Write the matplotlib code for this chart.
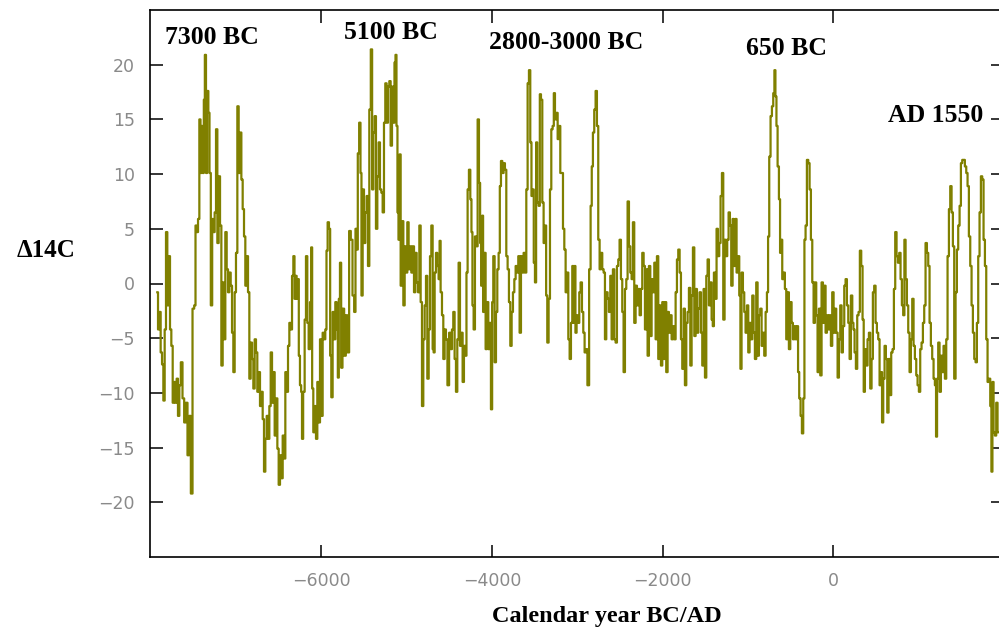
import matplotlib
matplotlib.use("Agg")
import matplotlib.pyplot as plt
import numpy as np

# (calendar year, Delta 14C), segment by segment
seg1 = [(-7924,-0.8),(-7908,-4.2),(-7893,-2.6),(-7877,-6.3),(-7861,-7.4),(-7846,-10.7),(-7830,-4.2),(-7815,4.7),
        (-7799,-2.0),(-7783,2.5),(-7768,-4.2),(-7752,-5.7),(-7736,-10.9),(-7721,-9.0),(-7705,-10.9),(-7690,-8.7),
        (-7674,-12.1),(-7658,-9.3),(-7639,-7.2),(-7619,-10.5),(-7600,-12.7),(-7580,-10.9),(-7561,-15.7),(-7541,-12.1),
        (-7521,-19.2),(-7502,-2.3),(-7482,-2.0),(-7471,5.3),(-7455,4.7),(-7439,5.9),(-7424,15.0),(-7412,10.1),
        (-7400,14.4),(-7385,10.1),(-7373,16.8),(-7361,20.9),(-7346,10.1),(-7334,17.6),(-7318,15.6),(-7307,10.1),
        (-7287,-2.0),(-7275,5.9),(-7260,4.7),(-7244,6.5),(-7228,14.1),(-7213,3.7),(-7197,9.8),(-7181,5.3),
        (-7166,-7.5),(-7150,0.1),(-7135,-5.1),(-7119,4.7),(-7103,1.3),(-7088,-0.8),(-7072,1.0),(-7056,-0.2),
        (-7041,-4.5),(-7025,-8.1),(-7010,-0.8),(-6994,2.8),(-6978,16.2),(-6963,10.1),(-6947,13.8),(-6931,9.5),
        (-6916,6.8),(-6900,4.3),(-6885,-0.2),(-6869,2.5),(-6853,-0.8),(-6838,-8.7),(-6822,-5.4),(-6806,-6.9),
        (-6791,-9.6),(-6775,-5.1),(-6760,-6.3),(-6744,-9.9),(-6728,-8.1),(-6713,-11.2),(-6697,-9.9),(-6681,-12.4),
        (-6666,-17.2),(-6650,-14.2),(-6634,-12.1),(-6619,-14.2),(-6603,-11.2),(-6587,-6.3),(-6572,-10.9),(-6556,-8.1),
        (-6541,-13.9),(-6525,-10.5),(-6509,-15.1),(-6494,-18.4),(-6478,-15.7),(-6462,-17.8),(-6447,-13.9),(-6431,-16.0),
        (-6416,-8.1),(-6400,-9.9),(-6384,-5.7),(-6369,-3.6),(-6353,-4.2),(-6337,0.7),(-6322,2.5)]

seg2 = [(-6310,-1.4),(-6299,0.7),(-6283,-1.4),(-6271,0.4),(-6260,-6.6),(-6244,-9.3),(-6232,-9.9),(-6224,-14.2),
        (-6205,-9.9),(-6189,-3.3),(-6174,2.5),(-6158,-3.6),(-6142,-6.0),(-6127,-1.7),(-6115,3.3),(-6103,-9.6),
        (-6088,-13.6),(-6072,-11.2),(-6056,-14.2),(-6041,-9.0),(-6025,-12.7),(-6009,-5.1),(-5994,-12.1),(-5978,-4.5),
        (-5963,-5.1),(-5947,-4.2),(-5935,3.0),(-5920,5.6),(-5904,5.0),(-5892,-6.6),(-5877,-10.4),(-5861,-2.6),
        (-5845,-5.1),(-5830,-1.7),(-5814,-4.2),(-5802,-8.6),(-5791,-1.4),(-5775,1.9),(-5763,-7.7),(-5744,-2.3),
        (-5724,-6.6),(-5705,-2.9),(-5685,-6.3),(-5666,4.8),(-5646,4.0),(-5626,-1.1),(-5607,-2.6),(-5595,5.0),
        (-5580,3.1),(-5568,11.9),(-5548,14.7),(-5537,10.1),(-5525,-1.1),(-5509,8.6),(-5494,3.7),(-5478,6.5),
        (-5462,8.0),(-5447,1.6),(-5431,15.9),(-5412,21.4),(-5400,8.6),(-5384,13.8),(-5369,15.3),(-5353,5.0),
        (-5337,9.8),(-5322,12.9),(-5306,8.6),(-5290,8.3),(-5275,6.5),(-5259,14.7),(-5244,18.3),(-5228,14.7),
        (-5212,18.0),(-5197,18.5),(-5181,12.6),(-5165,18.0),(-5150,14.7),(-5138,20.2),(-5126,20.9),(-5115,14.4),
        (-5103,6.5),(-5091,4.0),(-5079,11.8),(-5064,-0.2),(-5048,5.7),(-5032,-2.0),(-5017,3.4),(-5001,1.0),
        (-4986,5.6),(-4970,1.3),(-4954,3.4),(-4939,1.0),(-4923,3.4),(-4907,-0.8),(-4892,2.8),(-4876,0.1),
        (-4860,-0.8),(-4845,5.3),(-4829,-1.7),(-4814,-11.2),(-4798,-5.1),(-4782,-2.0),(-4767,0.7),(-4751,-8.7),
        (-4735,-4.2),(-4720,2.5),(-4704,5.3),(-4689,-6.0)]

seg3 = [(-4681,-6.3),(-4665,1.0),(-4650,2.8),(-4634,1.6),(-4619,0.4),(-4611,3.9),(-4595,-0.8),(-4579,-2.9),
        (-4564,-6.9),(-4548,-4.2),(-4533,-5.1),(-4513,-9.3),(-4494,-4.5),(-4478,-6.0),(-4462,-4.2),(-4447,-2.6),
        (-4431,-6.9),(-4415,-9.9),(-4400,-5.1),(-4384,1.9),(-4368,-5.7),(-4353,-4.5),(-4337,-9.0),(-4322,-5.7),
        (-4306,-6.6),(-4294,1.0),(-4279,8.6),(-4263,10.4),(-4247,7.7),(-4236,4.7),(-4224,-2.0),(-4208,-4.2),
        (-4193,4.3),(-4177,3.4),(-4161,15.0),(-4146,9.2),(-4134,3.7),(-4122,-0.2),(-4111,6.2),(-4099,-2.6),
        (-4083,2.8),(-4068,-6.0),(-4052,-1.7),(-4036,-6.0),(-4021,-3.6),(-4005,-11.5),(-3993,-1.7),(-3978,2.5),
        (-3962,-7.2),(-3946,-2.6),(-3931,1.3),(-3915,2.8),(-3903,8.9),(-3888,11.2),(-3872,10.1),(-3857,11.0),
        (-3841,10.4),(-3825,2.5),(-3810,1.3),(-3794,-1.7),(-3778,-5.7),(-3763,-2.6),(-3747,-0.8),(-3731,0.4),
        (-3716,1.6),(-3700,1.0),(-3685,2.5),(-3669,-4.5),(-3653,2.5),(-3638,1.0),(-3622,2.8),(-3606,1.0),
        (-3591,8.6),(-3575,18.3),(-3560,19.5),(-3544,12.9),(-3532,8.0),(-3517,8.6),(-3505,1.9),(-3489,0.1),
        (-3478,12.9),(-3462,7.4),(-3446,7.1),(-3434,17.3),(-3419,16.8),(-3403,7.4),(-3388,3.7),(-3372,5.3),
        (-3360,-1.1),(-3345,-5.4),(-3329,-1.4),(-3313,8.6),(-3298,14.1),(-3282,14.4),(-3270,17.4),(-3255,15.0),
        (-3239,15.6),(-3223,13.2),(-3208,14.4),(-3192,10.1),(-3176,10.1),(-3161,5.0),(-3145,3.1),(-3130,-0.8),
        (-3114,1.0),(-3098,-5.1),(-3083,-6.9),(-3067,-3.6),(-3052,1.6)]

seg4 = [(-3040,-3.6),(-3028,1.6),(-3017,-4.5),(-3001,-2.9),(-2985,-3.6),(-2970,-0.8),(-2954,0.1),(-2938,-2.6),
        (-2923,-4.5),(-2907,-6.3),(-2892,-6.0),(-2872,-9.3),(-2852,1.3),(-2837,7.1),(-2825,10.7),(-2810,13.8),
        (-2794,15.9),(-2778,17.6),(-2763,14.4),(-2747,4.0),(-2731,1.3),(-2716,2.8),(-2700,1.3),(-2684,1.0),
        (-2669,-5.1),(-2653,-0.8),(-2638,-1.4),(-2622,-2.6),(-2606,0.7),(-2591,-5.1),(-2575,1.3),(-2559,-5.1),
        (-2544,-5.4),(-2528,1.6),(-2513,2.2),(-2497,4.0),(-2481,0.4),(-2466,-2.6),(-2450,-8.1),(-2434,-0.5),
        (-2419,0.4),(-2403,7.5),(-2387,3.4),(-2372,1.0),(-2356,0.4),(-2341,5.6),(-2325,-3.6),(-2309,-0.2),
        (-2294,-2.0),(-2278,-0.5),(-2262,-2.9),(-2247,-0.5),(-2231,2.8),(-2215,1.6),(-2200,-4.2),(-2184,1.3),
        (-2169,-6.6),(-2153,1.6),(-2137,-4.8),(-2122,0.4),(-2106,-0.8),(-2090,1.9),(-2075,-5.1),(-2059,2.5),
        (-2044,-6.9),(-2028,-2.0),(-2012,-7.5),(-1997,-1.7),(-1981,-6.9),(-1966,-1.7),(-1950,-8.1),(-1934,-2.6),
        (-1919,-4.5),(-1903,-2.9),(-1887,-5.1),(-1872,-3.9),(-1856,-5.1),(-1840,-0.8),(-1825,2.2),(-1809,3.1),
        (-1793,1.0),(-1778,-5.1),(-1762,-7.8),(-1747,-2.3),(-1731,-9.3),(-1715,-3.6),(-1700,-2.6),(-1684,-0.4),
        (-1668,-7.5),(-1653,-1.1),(-1637,3.3),(-1621,-4.8),(-1606,-0.5),(-1590,-4.5),(-1575,-2.3),(-1559,-0.8),
        (-1543,-4.5),(-1528,-7.5),(-1512,-0.5),(-1496,-8.6),(-1481,0.7),(-1465,2.2),(-1450,-2.0),(-1434,0.1),
        (-1418,-3.3)]

seg5 = [(-1407,-3.9),(-1391,1.0),(-1376,-1.4),(-1360,5.0),(-1344,2.5),(-1329,3.7),(-1313,8.0),(-1297,10.1),
        (-1282,-3.3),(-1266,4.0),(-1251,2.5),(-1235,4.0),(-1219,6.5),(-1204,5.3),(-1188,-0.2),(-1172,5.9),
        (-1157,1.6),(-1141,5.9),(-1126,1.0),(-1110,2.5),(-1094,-1.1),(-1083,-7.8),(-1067,1.0),(-1051,-0.8),
        (-1036,-2.6),(-1020,-4.5),(-1004,-2.0),(-989,-6.3),(-973,-3.6),(-957,-5.1),(-942,-1.1),(-926,-4.5),
        (-911,-6.9),(-895,0.1),(-879,-6.6),(-864,-2.9),(-848,-2.3),(-832,-5.7),(-817,-4.5),(-801,-6.6),
        (-785,-2.6),(-770,-0.8),(-758,4.3),(-743,11.6),(-727,15.3),(-711,16.2),(-696,17.4),(-684,19.5),
        (-672,17.1),(-660,14.4),(-645,10.7),(-629,7.7),(-618,2.8),(-606,4.0),(-590,0.4),(-575,1.0),
        (-559,-0.5),(-543,-5.1),(-528,-0.8),(-512,-6.0),(-496,-1.7),(-481,-3.6),(-465,-5.1),(-450,-3.9),
        (-434,-5.1),(-418,-3.9),(-407,-8.1),(-391,-10.5),(-375,-12.1),(-360,-13.7),(-344,-10.5),(-332,4.0),
        (-317,5.3),(-301,11.3),(-285,11.0),(-270,8.6),(-254,4.0),(-238,0.1),(-223,-3.6),(-207,0.1),
        (-192,-2.9),(-176,-8.1),(-160,-2.3),(-145,-8.4),(-129,0.1),(-113,-3.6),(-98,-0.2),(-82,-4.5),
        (-66,-2.9),(-51,-4.2),(-35,-2.9),(-20,-5.7),(-4,-0.8),(12,-4.5),(27,-2.3),(43,-4.5),
        (59,-8.6),(74,-5.1),(90,-2.0),(105,-6.3),(121,-3.9),(137,-0.2),(152,0.4),(168,-2.0),
        (184,-3.6),(199,-6.9),(215,-1.1),(231,-3.6)]

seg6 = [(242,-4.2),(258,-6.3),(273,-7.8),(289,-2.9),(304,-2.6),(320,3.0),(336,1.6),(351,-3.3),
        (363,-9.9),(379,-6.0),(394,-7.5),(410,-5.1),(426,-4.5),(441,-9.6),(457,-6.9),(472,-0.8),
        (488,-0.2),(504,-3.6),(519,-4.5),(535,-5.1),(551,-9.3),(566,-8.1),(578,-12.7),(594,-8.7),
        (609,-5.7),(625,-6.9),(641,-11.8),(656,-6.9),(672,-10.2),(687,-6.3),(703,-6.0),(719,-0.5),
        (734,4.7),(750,2.5),(766,1.9),(781,2.8),(797,0.4),(812,-2.0),(828,-2.9),(840,4.0),
        (856,0.4),(871,-2.0),(887,-4.5),(902,-8.1),(918,-5.1),(934,-1.4),(949,-5.7),(965,-6.9),
        (981,-8.4),(996,-9.3),(1012,-9.9),(1027,-6.0),(1043,-5.4),(1059,-3.6),(1074,-2.0),(1090,3.7),
        (1106,2.8),(1121,1.6),(1137,-3.6),(1152,-5.7),(1168,-6.9),(1184,-8.7),(1199,-9.3),(1211,-14.0),
        (1223,-8.7),(1238,-5.4),(1254,-9.9),(1270,-6.6),(1285,-8.1),(1301,-5.7),(1317,-8.7),(1332,-5.1),
        (1348,2.5),(1364,6.8),(1379,8.9),(1395,6.5),(1410,3.4),(1426,-8.7),(1442,-0.8),(1457,3.1),
        (1473,5.3),(1489,7.1),(1504,11.0),(1520,11.3),(1535,11.3),(1551,10.7),(1567,10.1),(1582,8.9),
        (1598,4.3),(1614,1.6),(1629,-2.0),(1645,-4.5),(1661,-6.9),(1676,-7.2),(1692,-3.6),(1707,2.5),
        (1723,6.5),(1739,9.8),(1754,9.5),(1770,4.0),(1786,1.6),(1801,-5.1),(1817,-9.0),(1833,-8.7),
        (1848,-11.2),(1860,-17.2),(1872,-9.0),(1887,-13.6),(1903,-13.9),(1918,-10.9),(1934,-13.6)]

xticks = [-6000, -4000, -2000, 0]
yticks = [-20, -15, -10, -5, 0, 5, 10, 15, 20]
events = ["7300 BC", "5100 BC", "2800-3000 BC", "650 BC", "AD 1550"]
event_x = [-7280, -5185, -3133, -554, 1205]
event_y = [22.5, 22.9, 22.0, 21.5, 15.4]

pts = seg1 + seg2 + seg3 + seg4 + seg5 + seg6
years = np.array([p[0] for p in pts], dtype=float)
d14c = np.array([p[1] for p in pts], dtype=float)

fig = plt.figure(figsize=(9.99, 6.30), dpi=100)
ax = fig.add_axes([150/999, 1-557/630, 853/999, (557-10)/630])
ax.plot(years, d14c, color='#808000', lw=1.6, drawstyle='steps-mid')
ax.set_xlim(-8010, 1990)
ax.set_ylim(-25, 25)
ax.set_xticks(xticks)
ax.set_yticks(yticks)
ax.tick_params(direction='in', length=9, width=1.1, top=True, right=True,
               labelsize=12.5, labelcolor='#8a8a8a', pad=11)
for s in ax.spines.values():
    s.set_linewidth(1.2)

serif = 'Liberation Serif'
for t, x, y in zip(events, event_x, event_y):
    ax.text(x, y, t, ha='center', va='center', fontsize=18.5, fontweight='bold',
            family=serif, clip_on=False)

fig.text(46/999, 1-251/630, 'Δ14C', ha='center', va='center', fontsize=18,
         fontweight='bold', family=serif)
fig.text(607/999, 1-622/630, 'Calendar year BC/AD', ha='center', va='baseline',
         fontsize=17.5, fontweight='bold', family=serif)

fig.savefig('out.png', dpi=100)
